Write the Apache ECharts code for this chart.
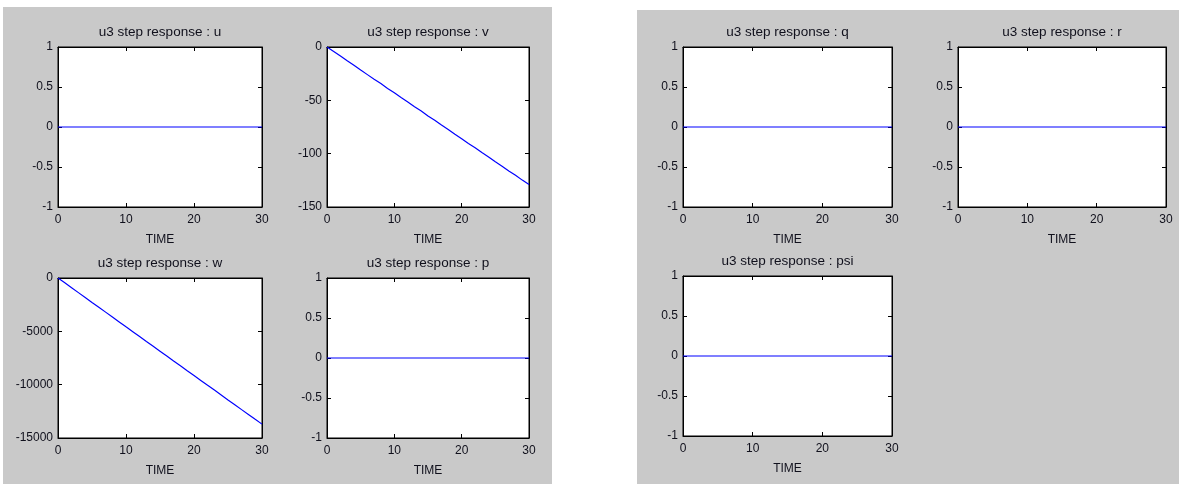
<!DOCTYPE html>
<html>
<head>
<meta charset="utf-8">
<script src="https://cdn.jsdelivr.net/npm/echarts@6/dist/echarts.min.js"></script>
<style>html,body{margin:0;padding:0;background:#fff}#c{width:1179px;height:484px}</style>
</head>
<body>
<div id="c"></div>
<script>
// ---- data ----
const time = [0,1,2,3,4,5,6,7,8,9,10,11,12,13,14,15,16,17,18,19,20,21,22,23,24,25,26,27,28,29,30];
const uVals = [0,0,0,0,0,0,0,0,0,0,0,0,0,0,0,0,0,0,0,0,0,0,0,0,0,0,0,0,0,0,0];
const vVals = [0,-4.2,-8.5,-12.9,-17.1,-21.6,-25.9,-30.2,-34.3,-38.8,-43.0,-47.4,-51.5,-56.0,-60.1,-64.6,-68.7,-73.2,-77.3,-81.8,-86.0,-90.4,-94.5,-99.0,-103.1,-107.6,-111.7,-116.2,-120.3,-124.8,-129.0];
const wVals = [0,-450,-910,-1370,-1830,-2290,-2740,-3200,-3660,-4120,-4580,-5030,-5490,-5950,-6400,-6860,-7320,-7780,-8230,-8690,-9140,-9600,-10060,-10510,-10970,-11430,-11880,-12340,-12790,-13250,-13700];
const pVals = [0,0,0,0,0,0,0,0,0,0,0,0,0,0,0,0,0,0,0,0,0,0,0,0,0,0,0,0,0,0,0];
const qVals = [0,0,0,0,0,0,0,0,0,0,0,0,0,0,0,0,0,0,0,0,0,0,0,0,0,0,0,0,0,0,0];
const rVals = [0,0,0,0,0,0,0,0,0,0,0,0,0,0,0,0,0,0,0,0,0,0,0,0,0,0,0,0,0,0,0];
const psiVals = [0,0,0,0,0,0,0,0,0,0,0,0,0,0,0,0,0,0,0,0,0,0,0,0,0,0,0,0,0,0,0];
const xTicks = [0,10,20,30];
const titles = ['u3 step response : u','u3 step response : v','u3 step response : w','u3 step response : p','u3 step response : q','u3 step response : r','u3 step response : psi'];
const yRanges = [[-1,1,0.5],[-150,0,50],[-15000,0,5000],[-1,1,0.5],[-1,1,0.5],[-1,1,0.5],[-1,1,0.5]];
const seriesVals = [uVals,vVals,wVals,pVals,qVals,rVals,psiVals];
const xLabel = 'TIME';

// ---- layout (pixel boxes of each plot area) ----
const boxes = [
  {l:58,  t:47,  r:262,  b:207},
  {l:327, t:47,  r:529,  b:207},
  {l:58,  t:278, r:262,  b:438},
  {l:327, t:278, r:529,  b:438},
  {l:683, t:47,  r:892,  b:207},
  {l:958, t:47,  r:1166, b:207},
  {l:683, t:276, r:892,  b:436}
];

const FONT = 'Liberation Sans, Arial, sans-serif';
const TXT = '#10101c';
const grids = [], xAxes = [], yAxes = [], series = [], tl = [];
boxes.forEach((bx, i) => {
  grids.push({left:bx.l, top:bx.t, width:bx.r-bx.l, height:bx.b-bx.t, show:true,
    backgroundColor:'#ffffff', borderColor:'#000', borderWidth:1, containLabel:false});
  const tick = {show:true, inside:true, length:4, lineStyle:{color:'#000', width:1}};
  xAxes.push({gridIndex:i, type:'value', min:0, max:30, interval:10, position:'bottom',
    axisLine:{show:true, onZero:false, lineStyle:{color:'#000'}}, axisTick:tick, splitLine:{show:false},
    axisLabel:{color:TXT, fontFamily:FONT, fontSize:12, margin:7},
    name:xLabel, nameLocation:'middle', nameGap:27, nameTextStyle:{color:TXT, fontFamily:FONT, fontSize:12}});
  xAxes.push({gridIndex:i, type:'value', min:0, max:30, interval:10, position:'top',
    axisLine:{show:true, onZero:false, lineStyle:{color:'#000'}}, axisTick:tick, splitLine:{show:false},
    axisLabel:{show:false}});
  const yr = yRanges[i];
  yAxes.push({gridIndex:i, type:'value', min:yr[0], max:yr[1], interval:yr[2], position:'left',
    axisLine:{show:true, onZero:false, lineStyle:{color:'#000'}}, axisTick:tick, splitLine:{show:false},
    axisLabel:{color:TXT, fontFamily:FONT, fontSize:12, margin:5, formatter:v => String(v)}});
  yAxes.push({gridIndex:i, type:'value', min:yr[0], max:yr[1], interval:yr[2], position:'right',
    axisLine:{show:true, onZero:false, lineStyle:{color:'#000'}}, axisTick:tick, splitLine:{show:false},
    axisLabel:{show:false}});
  series.push({type:'line', xAxisIndex:2*i, yAxisIndex:2*i, showSymbol:false, symbol:'none', z:5,
    data: time.map((t, k) => [t, seriesVals[i][k]]),
    lineStyle:{color:'#0000ff', width:1.2}, animation:false});
  tl.push({text:titles[i], left:(bx.l+bx.r)/2, top:bx.t-22, textAlign:'center', padding:0,
    textStyle:{color:TXT, fontFamily:FONT, fontSize:13.5, fontWeight:'normal'}});
});

const chart = echarts.init(document.getElementById('c'));
chart.setOption({
  animation:false,
  backgroundColor:'#ffffff',
  graphic:[
    {type:'rect', z:-10, silent:true, shape:{x:3, y:7, width:549, height:477}, style:{fill:'#c9c9c9'}},
    {type:'rect', z:-10, silent:true, shape:{x:637, y:10, width:542, height:474}, style:{fill:'#c9c9c9'}}
  ],
  title: tl,
  grid: grids,
  xAxis: xAxes,
  yAxis: yAxes,
  series: series
});
</script>
</body>
</html>
